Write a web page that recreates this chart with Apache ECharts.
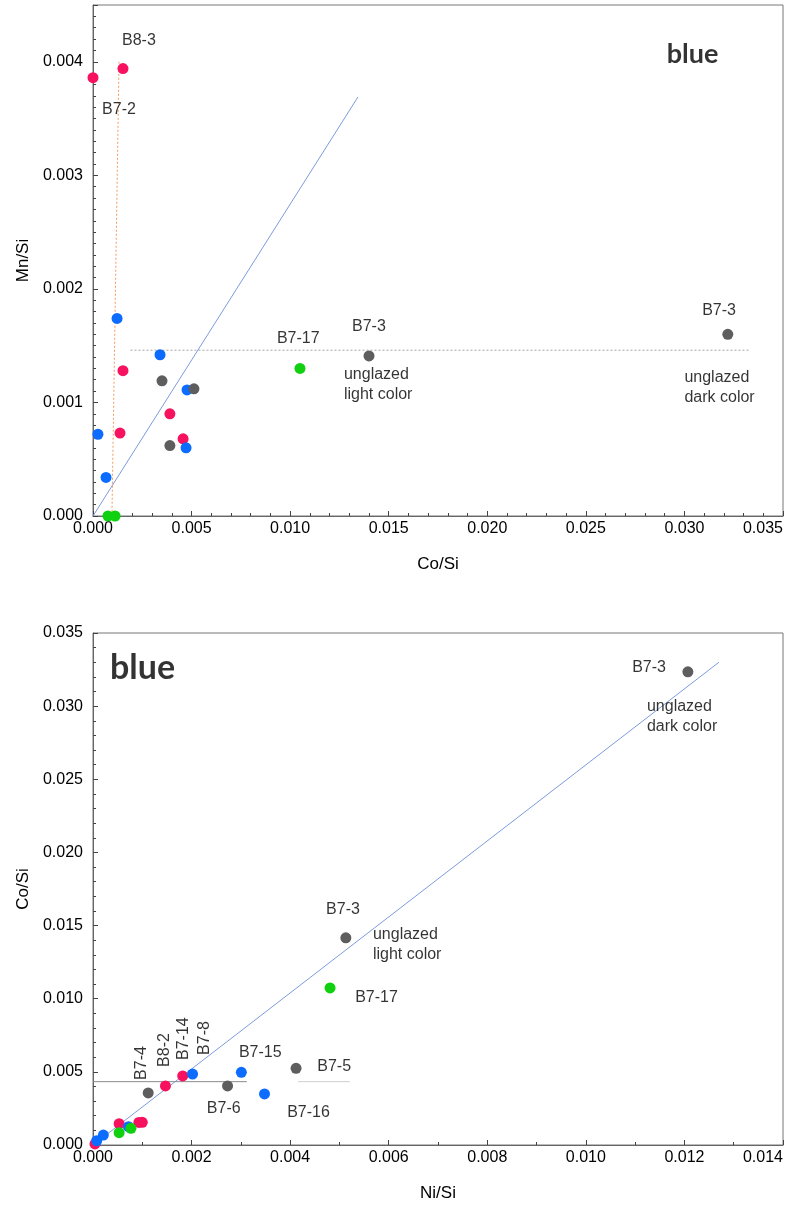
<!DOCTYPE html>
<html>
<head>
<meta charset="utf-8">
<script src="https://cdn.jsdelivr.net/npm/echarts@6/dist/echarts.min.js"></script>
<style>
  html, body { margin: 0; padding: 0; background: #fff; }
  #chart { width: 792px; height: 1206px; }
</style>
</head>
<body>
<div id="chart"></div>
<script>
// ---- top chart: Co/Si (x) vs Mn/Si (y)
const topPink = [[0.0, 0.00386], [0.00152, 0.00394], [0.00152, 0.00128], [0.00137, 0.00073], [0.0039, 0.0009], [0.00457, 0.00068]];
const topBlue = [[0.00122, 0.00174], [0.0034, 0.00142], [0.00025, 0.00072], [0.00066, 0.00034], [0.00477, 0.00111], [0.00472, 0.0006]];
const topGray = [[0.0035, 0.00119], [0.00512, 0.00112], [0.0039, 0.00062], [0.0140, 0.00141], [0.0322, 0.0016]];
const topGreen = [[0.0105, 0.0013], [0.00076, 0.0], [0.00112, 0.0]];
const topFitLine = [[0.0, 0.0], [0.01344, 0.00369]];
const topLevelLine = [[0.0019, 0.00146], [0.0333, 0.00146]];
const topOrangeLine = [[0.00132, 0.0040], [0.00096, 0.0]];
const topLabels = [
  [0.00147, 0.00419, 'B8-3'],
  [0.00046, 0.00358, 'B7-2'],
  [0.00933, 0.00156, 'B7-17'],
  [0.01314, 0.00167, 'B7-3'],
  [0.01273, 0.00116, 'unglazed\nlight color'],
  [0.0309, 0.00181, 'B7-3'],
  [0.0300, 0.00113, 'unglazed\ndark color']
];
const topTitle = [[0.0291, 0.00407, 'blue']];

// ---- bottom chart: Ni/Si (x) vs Co/Si (y)
const botPink = [[0.00182, 0.00472], [0.00147, 0.00404], [0.00053, 0.00146], [0.001, 0.00155], [0.00093, 0.00154], [0.00004, 0.00007]];
const botBlue = [[0.00301, 0.00497], [0.00348, 0.00349], [0.00202, 0.00485], [0.00072, 0.00125], [0.00021, 0.00068], [0.000075, 0.00029]];
const botGray = [[0.01207, 0.03235], [0.00513, 0.01416], [0.00112, 0.00356], [0.00273, 0.00404], [0.00412, 0.00524]];
const botGreen = [[0.00481, 0.01074], [0.00053, 0.00084], [0.00077, 0.00114]];
const botFitLine = [[0.0, 0.0], [0.0127, 0.0330]];
const botLevelLineA = [[0.0, 0.00433], [0.00312, 0.00433]];
const botLevelLineB = [[0.00416, 0.00433], [0.00521, 0.00433]];
const botLabels = [
  [0.01094, 0.03263, 'B7-3'],
  [0.01124, 0.02928, 'unglazed\ndark color'],
  [0.00473, 0.01607, 'B7-3'],
  [0.00568, 0.01368, 'unglazed\nlight color'],
  [0.00532, 0.01005, 'B7-17'],
  [0.00296, 0.00629, 'B7-15'],
  [0.00455, 0.00534, 'B7-5'],
  [0.00231, 0.00246, 'B7-6'],
  [0.00394, 0.00219, 'B7-16']
];
const botRotLabels = [
  [0.00099, 0.00445, 'B7-4'],
  [0.00146, 0.00534, 'B8-2'],
  [0.00183, 0.00581, 'B7-14'],
  [0.00227, 0.00616, 'B7-8']
];
const botTitle = [[0.000345, 0.03263, 'blue']];

const PINK = '#f7125f';
const BLUE = '#0b6cff';
const GRAY = '#5e5e5e';
const GREEN = '#10d010';
const FONT = 'Liberation Sans, Arial, sans-serif';

const myChart = echarts.init(document.getElementById('chart'));

function xAxisCfg(idx, name, max, interval, minorSplit, gap) {
  return {
    gridIndex: idx, type: 'value', name: name, nameLocation: 'middle', nameGap: gap,
    nameTextStyle: { fontFamily: FONT, fontSize: 17, color: '#000' },
    min: 0, max: max, interval: interval,
    axisLine: { show: true, lineStyle: { color: '#666', width: 1 } },
    axisTick: { show: true, inside: true, length: 5, lineStyle: { color: '#444' } },
    minorTick: { show: true, splitNumber: minorSplit, length: 3, lineStyle: { color: '#444' } },
    axisLabel: { fontFamily: FONT, fontSize: 16, color: '#000', margin: 5, alignMaxLabel: 'right',
      formatter: v => v.toFixed(3) },
    splitLine: { show: false }
  };
}
function yAxisCfg(idx, name, max, interval, minorSplit) {
  return {
    gridIndex: idx, type: 'value', name: name, nameLocation: 'middle', nameGap: 60,
    nameTextStyle: { fontFamily: FONT, fontSize: 17, color: '#000' },
    min: 0, max: max, interval: interval,
    axisLine: { show: true, lineStyle: { color: '#666', width: 1 } },
    axisTick: { show: true, inside: true, length: 5, lineStyle: { color: '#444' } },
    minorTick: { show: true, splitNumber: minorSplit, length: 3, lineStyle: { color: '#444' } },
    axisLabel: { fontFamily: FONT, fontSize: 16, color: '#000', margin: 10, showMaxLabel: max % interval < 1e-9,
      formatter: v => v.toFixed(3) },
    splitLine: { show: false }
  };
}
function dots(idx, data, color) {
  return { type: 'scatter', xAxisIndex: idx, yAxisIndex: idx, data: data, symbolSize: 11,
    itemStyle: { color: color, opacity: 1 }, clip: false, z: 5 };
}
function line(idx, data, color, type, width) {
  return { type: 'line', xAxisIndex: idx, yAxisIndex: idx, data: data, symbol: 'none',
    lineStyle: { color: color, type: type, width: width }, z: 3, silent: true };
}
function labels(idx, data, rotate) {
  return { type: 'scatter', xAxisIndex: idx, yAxisIndex: idx, data: data, symbolSize: 0,
    silent: true, z: 6,
    label: { show: true, position: 'inside', align: 'left', verticalAlign: 'middle',
      rotate: rotate, fontFamily: FONT, fontSize: 16, color: '#000', lineHeight: 20,
      formatter: p => p.value[2] } };
}
function title(idx, data, size) {
  return { type: 'scatter', xAxisIndex: idx, yAxisIndex: idx, data: data, symbolSize: 0,
    silent: true, z: 6,
    label: { show: true, position: 'inside', align: 'left', verticalAlign: 'middle',
      fontFamily: 'Comic Sans MS, Lato, DejaVu Sans, sans-serif', fontWeight: 'bold',
      fontSize: size, color: '#000', formatter: p => p.value[2] } };
}

const config = {
  animation: false,
  backgroundColor: '#fff',
  grid: [
    { left: 93, top: 5, width: 690, height: 511, show: true, borderColor: '#777', borderWidth: 1,
      outerBoundsMode: 'none', containLabel: false },
    { left: 93, top: 633, width: 690, height: 512, show: true, borderColor: '#777', borderWidth: 1,
      outerBoundsMode: 'none', containLabel: false }
  ],
  xAxis: [
    xAxisCfg(0, 'Co/Si', 0.035, 0.005, 5, 40),
    xAxisCfg(1, 'Ni/Si', 0.014, 0.002, 2, 40)
  ],
  yAxis: [
    yAxisCfg(0, 'Mn/Si', 0.0045, 0.001, 10),
    yAxisCfg(1, 'Co/Si', 0.035, 0.005, 5)
  ],
  series: [
    line(0, topFitLine, '#7d9bdc', 'solid', 1),
    line(0, topLevelLine, '#a8a8a8', [2, 2], 1),
    line(0, topOrangeLine, '#f39a5a', [2, 2], 1),
    dots(0, topPink, PINK),
    dots(0, topBlue, BLUE),
    dots(0, topGray, GRAY),
    dots(0, topGreen, GREEN),
    labels(0, topLabels, 0),
    title(0, topTitle, 27),

    line(1, botFitLine, '#7d9bdc', 'solid', 1),
    line(1, botLevelLineA, '#8a8a8a', 'solid', 1),
    line(1, botLevelLineB, '#cfcfcf', 'solid', 1),
    dots(1, botPink, PINK),
    dots(1, botBlue, BLUE),
    dots(1, botGray, GRAY),
    dots(1, botGreen, GREEN),
    labels(1, botLabels, 0),
    labels(1, botRotLabels, 90),
    title(1, botTitle, 34)
  ]
};
myChart.setOption(config);
</script>
</body>
</html>
